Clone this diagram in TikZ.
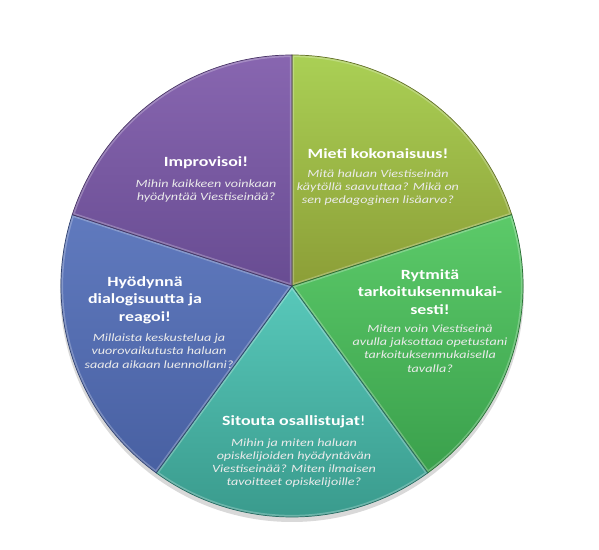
\documentclass[tikz,border=0pt]{standalone}
\usepackage{fontspec}
\setmainfont{Carlito}
\newfontfamily\piefont{Carlito}[FakeStretch=1.27]
\usepackage{tikz}
\usetikzlibrary{positioning}

\definecolor{ygtop}{RGB}{170,208,85}
\definecolor{ygbot}{RGB}{140,158,55}
\definecolor{grtop}{RGB}{92,202,105}
\definecolor{grbot}{RGB}{58,160,76}
\definecolor{tetop}{RGB}{88,200,186}
\definecolor{tebot}{RGB}{56,152,138}
\definecolor{bltop}{RGB}{96,122,190}
\definecolor{blbot}{RGB}{72,96,162}
\definecolor{putop}{RGB}{136,102,176}
\definecolor{pubot}{RGB}{104,76,146}

\begin{document}
\begin{tikzpicture}[
    x=0.025cm, y=0.025cm,
    node distance=7pt,
    title/.style={align=center, text=white, font=\piefont\fontsize{10}{12.4}\selectfont\bfseries, inner sep=0pt},
    question/.style={align=center, text=white!92!black, font=\piefont\fontsize{7.9}{9.4}\selectfont\itshape, inner sep=0pt},
    edge/.style={line width=0.5pt}
]
\useasboundingbox (-292,-264) rectangle (307,286);

% shadow under the pie
\fill[black!25, opacity=0.6] (0,-4) circle (232);

% sectors
\shade[top color=ygtop, bottom color=ygbot] (0,0) -- (90:231) arc (90:18:231) -- cycle;
\shade[top color=grtop, bottom color=grbot] (0,0) -- (18:231) arc (18:-54:231) -- cycle;
\shade[top color=tetop, bottom color=tebot] (0,0) -- (-54:231) arc (-54:-126:231) -- cycle;
\shade[top color=bltop, bottom color=blbot] (0,0) -- (-126:231) arc (-126:-198:231) -- cycle;
\shade[top color=putop, bottom color=pubot] (0,0) -- (162:231) arc (162:90:231) -- cycle;

% bevel edges
\foreach \a/\b/\c in {90/18/ygbot, 18/-54/grbot, -54/-126/tebot, -126/-198/blbot, 162/90/pubot}{
  \begin{scope}
    \clip (0,0) -- (\a:231) arc (\a:\b:231) -- cycle;
    \draw[white, opacity=0.25, line width=3pt] (0,0) -- (\a:231) arc (\a:\b:231) -- cycle;
  \end{scope}
  \draw[edge, \c!70!black] (0,0) -- (\a:231) arc (\a:\b:231) -- cycle;
}

% texts
\node[title] (mieti) at (86,132) {Mieti kokonaisuus!};
\node[question, below=of mieti] (mietiq) {Mitä haluan Viestiseinän\\käytöllä saavuttaa? Mikä on\\sen pedagoginen lisäarvo?};

\node[title] (rytmita) at (138,-6) {Rytmitä\\tarkoituksenmukai-\\sesti!};
\node[question, below=of rytmita] (rytmitaq) {Miten voin Viestiseinä\\avulla jaksottaa opetustani\\tarkoituksenmukaisella\\tavalla?};

\node[title] (sitouta) at (2,-136) {Sitouta osallistujat{\mdseries!}};
\node[question, below=of sitouta] (sitoutaq) {Mihin ja miten haluan\\opiskelijoiden hyödyntävän\\Viestiseinää? Miten ilmaisen\\tavoitteet opiskelijoille?};

\node[title] (hyodynna) at (-147,-14) {Hyödynnä\\dialogisuutta ja\\reagoi!};
\node[question, below=of hyodynna, xshift=10] (hyodynnaq) {Millaista keskustelua ja\\vuorovaikutusta haluan\\saada aikaan luennollani?};

\node[title] (improvisoi) at (-86,123) {Improvisoi!};
\node[question, below=of improvisoi] (improvisoiq) {Mihin kaikkeen voinkaan\\hyödyntää Viestiseinää?};
\end{tikzpicture}
\end{document}
